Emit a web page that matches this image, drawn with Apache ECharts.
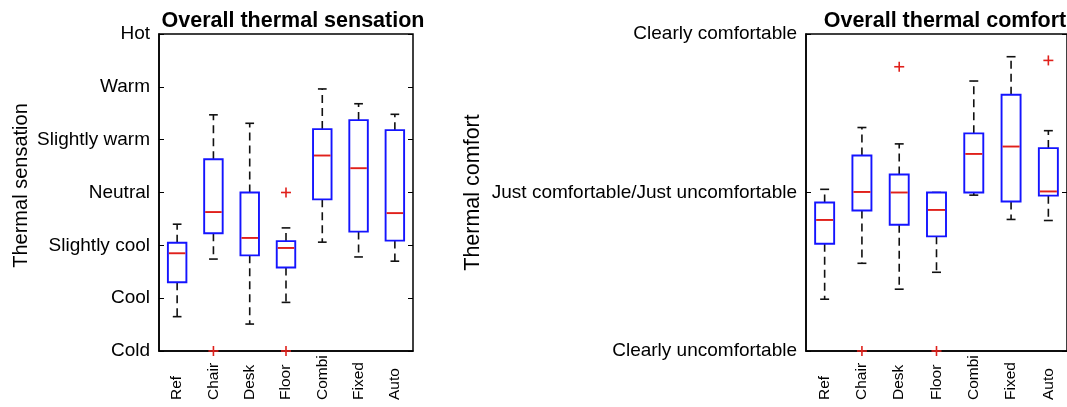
<!DOCTYPE html>
<html><head><meta charset="utf-8">
<script src="https://cdn.jsdelivr.net/npm/echarts@6/dist/echarts.min.js"></script>
<style>html,body{margin:0;padding:0;background:#fff}#c{width:1067px;height:407px}</style>
</head><body><div id="c"></div>
<script>
// ---- data ----
const categories = ['Ref', 'Chair', 'Desk', 'Floor', 'Combi', 'Fixed', 'Auto'];
const sensationLevels = ['Cold', 'Cool', 'Slightly cool', 'Neutral', 'Slightly warm', 'Warm', 'Hot']; // -3..3
const comfortLevels = { '-3': 'Clearly uncomfortable', '0': 'Just comfortable/Just uncomfortable', '3': 'Clearly comfortable' };

// Overall thermal sensation (-3 Cold .. +3 Hot)
const sensLow  = [-2.35, -1.26, -2.49, -2.08, -0.94, -1.22, -1.30];
const sensQ1   = [-1.70, -0.77, -1.19, -1.42, -0.13, -0.74, -0.91];
const sensMed  = [-1.15, -0.37, -0.86, -1.05,  0.70,  0.46, -0.39];
const sensQ3   = [-0.95,  0.63,  0.00, -0.92,  1.20,  1.37,  1.18];
const sensHigh = [-0.60,  1.47,  1.31, -0.67,  1.96,  1.68,  1.48];
const sensOutliers = [[1, -3], [3, -3], [3, 0]];

// Overall thermal comfort (-3 Clearly uncomfortable .. +3 Clearly comfortable)
const comfLow  = [-2.02, -1.34, -1.83, -1.51, -0.05, -0.51, -0.53];
const comfQ1   = [-0.97, -0.34, -0.61, -0.83,  0.00, -0.17, -0.06];
const comfMed  = [-0.52,  0.01,  0.00, -0.33,  0.73,  0.87,  0.02];
const comfQ3   = [-0.19,  0.70,  0.34,  0.00,  1.12,  1.85,  0.84];
const comfHigh = [ 0.06,  1.23,  0.92,  0.00,  2.11,  2.57,  1.17];
const comfOutliers = [[1, -3], [2, 2.38], [3, -3], [6, 2.50]];

// ---- styling ----
const FONT = "'Liberation Sans', Arial, sans-serif";
const BLUE = '#1414ff', RED = '#e0201b', BLACK = '#111';

function build(lo, q1, md, q3, hi) {
  return categories.map((c, i) => [i, lo[i], q1[i], md[i], q3[i], hi[i]]);
}

function boxRender(params, api) {
  const i = api.value(0);
  const band = api.size([1, 0])[0];
  const bw = band * 0.51, cw = band * 0.24;
  const pLo = api.coord([i, api.value(1)]);
  const pQ1 = api.coord([i, api.value(2)]);
  const pMd = api.coord([i, api.value(3)]);
  const pQ3 = api.coord([i, api.value(4)]);
  const pHi = api.coord([i, api.value(5)]);
  const x = pMd[0];
  const dash = { stroke: BLACK, lineWidth: 1.6, lineDash: [8, 5] };
  const solid = { stroke: BLACK, lineWidth: 1.6 };
  return {
    type: 'group',
    children: [
      { type: 'line', shape: { x1: x, y1: pQ3[1], x2: x, y2: pHi[1] }, style: dash },
      { type: 'line', shape: { x1: x, y1: pQ1[1], x2: x, y2: pLo[1] }, style: dash },
      { type: 'line', shape: { x1: x - cw / 2, y1: pHi[1], x2: x + cw / 2, y2: pHi[1] }, style: solid },
      { type: 'line', shape: { x1: x - cw / 2, y1: pLo[1], x2: x + cw / 2, y2: pLo[1] }, style: solid },
      { type: 'rect', shape: { x: x - bw / 2, y: pQ3[1], width: bw, height: pQ1[1] - pQ3[1] },
        style: { fill: '#fff', stroke: BLUE, lineWidth: 1.9 } },
      { type: 'line', shape: { x1: x - bw / 2 + 1, y1: pMd[1], x2: x + bw / 2 - 1, y2: pMd[1] },
        style: { stroke: RED, lineWidth: 1.9 } }
    ]
  };
}

function plusRender(params, api) {
  const p = api.coord([api.value(0), api.value(1)]);
  const s = 5;
  return {
    type: 'group',
    children: [
      { type: 'line', shape: { x1: p[0] - s, y1: p[1], x2: p[0] + s, y2: p[1] }, style: { stroke: RED, lineWidth: 1.6 } },
      { type: 'line', shape: { x1: p[0], y1: p[1] - s, x2: p[0], y2: p[1] + s }, style: { stroke: RED, lineWidth: 1.6 } }
    ]
  };
}

const chart = echarts.init(document.getElementById('c'), null, { renderer: 'canvas' });

const gridCommon = { top: 34, height: 317, show: true, borderColor: '#000', borderWidth: 1.5, backgroundColor: 'transparent' };

function xAxisFor(g) {
  return {
    type: 'category', gridIndex: g, data: categories, boundaryGap: true,
    axisLine: { show: true, onZero: false, lineStyle: { color: '#000', width: 1.5 } },
    axisTick: { show: false },
    axisLabel: { rotate: 90, align: 'left', margin: 49, fontSize: 15.5, color: '#000', fontFamily: FONT }
  };
}

const option = {
  backgroundColor: '#fff',
  animation: false,
  title: [
    { text: 'Overall thermal sensation', left: 288, top: 5, textAlign: 'center',
      textStyle: { fontSize: 21.5, fontWeight: 'bold', color: '#000', fontFamily: FONT } },
    { text: 'Overall thermal comfort', left: 940, top: 5, textAlign: 'center',
      textStyle: { fontSize: 21.5, fontWeight: 'bold', color: '#000', fontFamily: FONT } }
  ],
  grid: [
    Object.assign({ left: 159, width: 254 }, gridCommon),
    Object.assign({ left: 806, width: 267 }, gridCommon)
  ],
  xAxis: [xAxisFor(0), xAxisFor(1)],
  yAxis: [
    { type: 'value', gridIndex: 0, min: -3, max: 3, interval: 1, position: 'left',
      name: 'Thermal sensation', nameLocation: 'middle', nameGap: 128,
      nameTextStyle: { fontSize: 20, color: '#000', fontFamily: FONT, padding: [0, 0, 0, 14] },
      axisLine: { show: true, onZero: false, lineStyle: { color: '#000', width: 1.5 } },
      axisTick: { show: true, inside: true, length: 5, lineStyle: { color: '#000' } },
      splitLine: { show: false },
      axisLabel: { margin: 9, fontSize: 19, color: '#000', fontFamily: FONT,
        formatter: v => sensationLevels[Math.round(v) + 3] } },
    { type: 'value', gridIndex: 0, min: -3, max: 3, interval: 1, position: 'right',
      axisLine: { show: false, onZero: false }, splitLine: { show: false }, axisLabel: { show: false },
      axisTick: { show: true, inside: true, length: 5, lineStyle: { color: '#000' } } },
    { type: 'value', gridIndex: 1, min: -3, max: 3, interval: 3, position: 'left',
      name: 'Thermal comfort', nameLocation: 'middle', nameGap: 322,
      nameTextStyle: { fontSize: 21.5, color: '#000', fontFamily: FONT },
      axisLine: { show: true, onZero: false, lineStyle: { color: '#000', width: 1.5 } },
      axisTick: { show: true, inside: true, length: 5, lineStyle: { color: '#000' } },
      splitLine: { show: false },
      axisLabel: { margin: 9, fontSize: 19, color: '#000', fontFamily: FONT,
        formatter: v => comfortLevels[String(Math.round(v))] || '' } },
    { type: 'value', gridIndex: 1, min: -3, max: 3, interval: 3, position: 'right',
      axisLine: { show: false, onZero: false }, splitLine: { show: false }, axisLabel: { show: false },
      axisTick: { show: true, inside: true, length: 5, lineStyle: { color: '#000' } } }
  ],
  series: [
    { type: 'custom', xAxisIndex: 0, yAxisIndex: 0, renderItem: boxRender, clip: false,
      encode: { x: 0, y: [1, 2, 3, 4, 5] }, data: build(sensLow, sensQ1, sensMed, sensQ3, sensHigh) },
    { type: 'custom', xAxisIndex: 0, yAxisIndex: 0, renderItem: plusRender, clip: false,
      encode: { x: 0, y: 1 }, data: sensOutliers },
    { type: 'custom', xAxisIndex: 1, yAxisIndex: 2, renderItem: boxRender, clip: false,
      encode: { x: 0, y: [1, 2, 3, 4, 5] }, data: build(comfLow, comfQ1, comfMed, comfQ3, comfHigh) },
    { type: 'custom', xAxisIndex: 1, yAxisIndex: 2, renderItem: plusRender, clip: false,
      encode: { x: 0, y: 1 }, data: comfOutliers }
  ]
};
chart.setOption(option);
</script>
</body></html>
